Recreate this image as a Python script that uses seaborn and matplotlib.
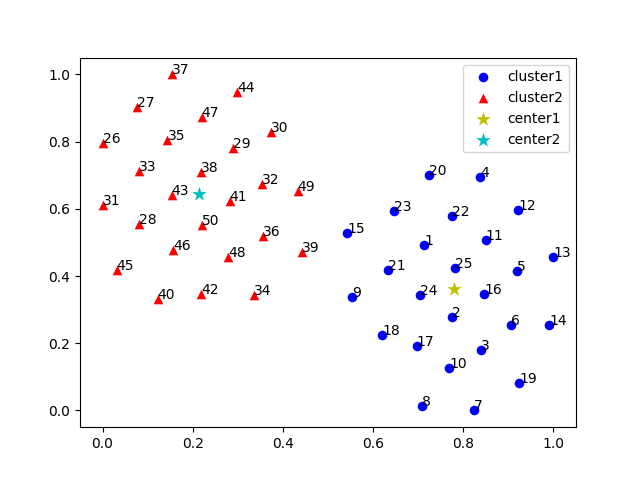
import matplotlib
matplotlib.use("Agg")
import matplotlib.pyplot as plt
import seaborn as sns

# cluster 1 (points 1..25)
ids1 = list(range(1, 26))
x1 = [0.713, 0.776, 0.840, 0.838, 0.920, 0.906, 0.824, 0.708, 0.553, 0.769,
      0.850, 0.922, 1.000, 0.990, 0.542, 0.847, 0.697, 0.620, 0.924, 0.724,
      0.633, 0.776, 0.647, 0.704, 0.782]
y1 = [0.493, 0.278, 0.181, 0.695, 0.415, 0.255, 0.000, 0.014, 0.337, 0.126,
      0.508, 0.597, 0.457, 0.255, 0.529, 0.347, 0.193, 0.225, 0.082, 0.702,
      0.419, 0.579, 0.594, 0.344, 0.425]

# cluster 2 (points 26..50)
ids2 = list(range(26, 51))
x2 = [0.000, 0.076, 0.080, 0.289, 0.373, 0.000, 0.353, 0.080, 0.335, 0.144,
      0.356, 0.153, 0.218, 0.442, 0.122, 0.282, 0.218, 0.153, 0.298, 0.031,
      0.156, 0.220, 0.278, 0.433, 0.220]
y2 = [0.796, 0.904, 0.554, 0.781, 0.830, 0.611, 0.673, 0.713, 0.344, 0.804,
      0.518, 1.000, 0.711, 0.470, 0.332, 0.623, 0.346, 0.641, 0.948, 0.418,
      0.478, 0.874, 0.458, 0.653, 0.551]

# centres
c1 = [0.779, 0.361]
c2 = [0.213, 0.643]

fig, ax = plt.subplots(figsize=(6.4, 4.8), dpi=100)

sns.scatterplot(x=x1, y=y1, color="b", marker="o", s=48, linewidth=0, label="cluster1", ax=ax)
sns.scatterplot(x=x2, y=y2, color="r", marker="^", s=48, linewidth=0, label="cluster2", ax=ax)
sns.scatterplot(x=[c1[0]], y=[c1[1]], color="y", marker="*", s=120, linewidth=0, label="center1", ax=ax)
sns.scatterplot(x=[c2[0]], y=[c2[1]], color="c", marker="*", s=120, linewidth=0, label="center2", ax=ax)

for i, a, b in zip(ids1, x1, y1):
    ax.text(a, b, str(i))
for i, a, b in zip(ids2, x2, y2):
    ax.text(a, b, str(i))

ax.legend(loc="upper right")
fig.savefig("out.png", dpi=100)
